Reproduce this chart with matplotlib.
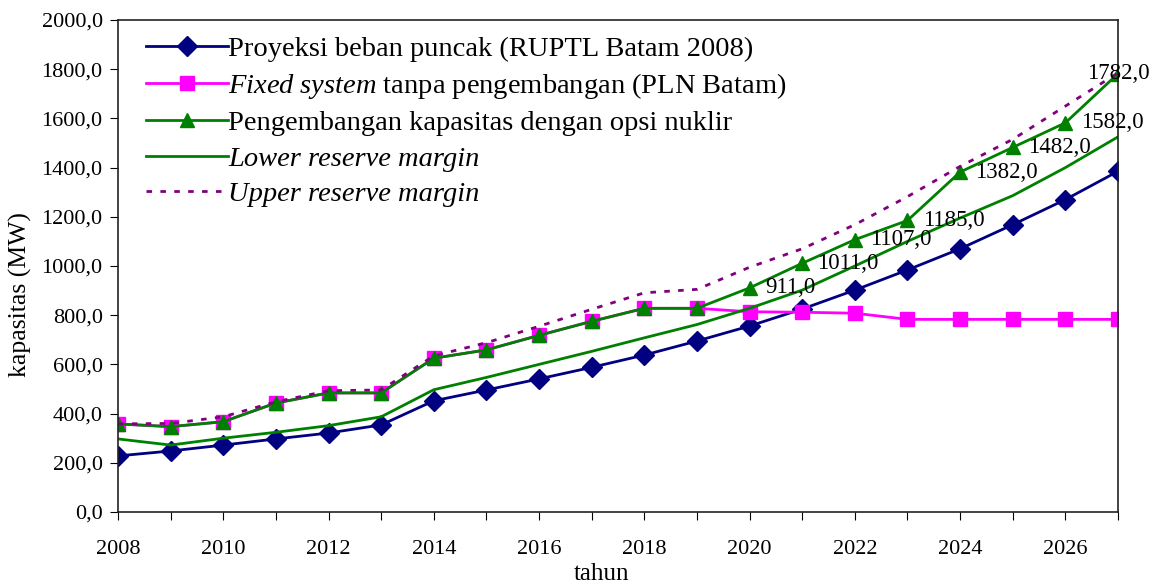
import matplotlib.pyplot as plt

plt.rcParams['font.family'] = ['Liberation Serif', 'DejaVu Serif']
plt.rcParams['mathtext.fontset'] = 'custom'
plt.rcParams['mathtext.rm'] = 'Liberation Serif'
plt.rcParams['mathtext.it'] = 'Liberation Serif:italic'

# data
tahun = list(range(2008, 2028))
beban = [228, 248, 272, 297, 321, 354, 452, 496, 541, 588, 638, 695, 756, 825, 902, 984, 1070, 1168, 1270, 1385]
fixed = [358, 347, 367, 443, 484, 484, 625, 659, 718, 775, 828, 828, 814, 812, 808, 783, 783, 783, 783, 783]
nuklir = [358, 347, 367, 443, 484, 484, 625, 659, 718, 775, 828, 828, 911, 1011, 1107, 1185, 1382, 1482, 1582, 1782]
lower = [297, 272, 300, 324, 351, 387, 497, 547, 600, 653, 708, 762, 828, 902, 1000, 1100, 1195, 1286, 1400, 1525]
upper = [358, 360, 387, 448, 493, 496, 635, 688, 755, 824, 891, 905, 995, 1070, 1168, 1282, 1405, 1515, 1650, 1785]
yticks = [0, 200, 400, 600, 800, 1000, 1200, 1400, 1600, 1800, 2000]

fig = plt.figure(figsize=(11.5, 5.83), dpi=100)
ax = fig.add_axes([0.1026, 0.1218, 0.8696, 0.8439])

ax.plot(tahun, beban, color='#000080', lw=2, marker='D', ms=10,
        label='Proyeksi beban puncak (RUPTL Batam 2008)')
ax.plot(tahun, fixed, color='#FF00FF', lw=2, marker='s', ms=10,
        label=r'$\mathit{Fixed\ system}$ tanpa pengembangan (PLN Batam)')
ax.plot(tahun, nuklir, color='#008000', lw=2, marker='^', ms=9.5,
        label='Pengembangan kapasitas dengan opsi nuklir')
ax.plot(tahun, lower, color='#008000', lw=2, label='Lower reserve margin')
ax.plot(tahun, upper, color='#800080', lw=2, ls=(0, (2, 3)),
        label='Upper reserve margin')

# value labels on the nuclear option from 2020 onward
for x, y in zip(tahun[12:-1], nuklir[12:-1]):
    ax.annotate(f"{y:.1f}".replace('.', ','), (x, y), xytext=(11, 0),
                textcoords='offset points', va='center', ha='left', fontsize=16.5)
ax.annotate(f"{nuklir[-1]:.1f}".replace('.', ','), (tahun[-1], nuklir[-1]),
            xytext=(0, 0), textcoords='offset points', va='center', ha='center', fontsize=16.5)

ax.set_xlim(2008, 2027)
ax.set_ylim(0, 2000)
ax.set_xticks(tahun)
ax.set_xticklabels([str(t) if t % 2 == 0 else '' for t in tahun])
ax.set_yticks(yticks)
ax.set_yticklabels([f"{v:.1f}".replace('.', ',') for v in yticks])
ax.tick_params(axis='x', direction='out', length=6, pad=14, labelsize=16)
ax.tick_params(axis='y', direction='out', length=6, pad=5, labelsize=16)
for s in ax.spines.values():
    s.set_linewidth(1.2)
    s.set_color('#222222')

ax.set_xlabel('tahun', fontsize=18)
ax.xaxis.set_label_coords(0.483, -0.103)
ax.set_ylabel('kapasitas (MW)', fontsize=18.5)
ax.yaxis.set_label_coords(-0.086, 0.441)

leg = ax.legend(loc='upper left', bbox_to_anchor=(0.012, 1.0), frameon=False,
                fontsize=20.5, handlelength=2.9, handletextpad=0.0,
                labelspacing=0.33, borderaxespad=0.15)
leg.get_texts()[3].set_fontstyle('italic')
leg.get_texts()[4].set_fontstyle('italic')

fig.savefig('out.png', dpi=100)
